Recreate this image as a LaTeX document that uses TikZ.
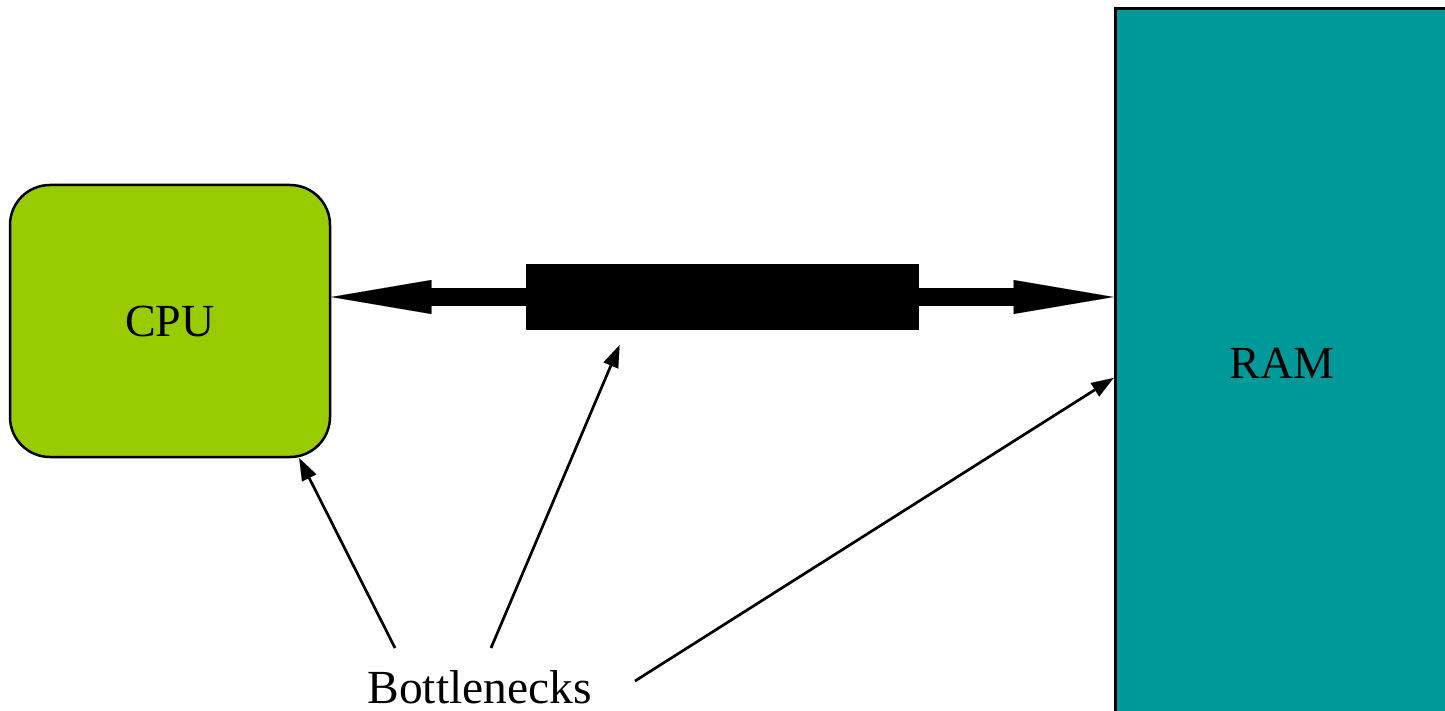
\documentclass[tikz,border=0pt]{standalone}
\usepackage{fontspec}
\setmainfont{Liberation Serif}
\usetikzlibrary{arrows.meta,calc}
\definecolor{cpugreen}{HTML}{99CC00}
\definecolor{ramteal}{HTML}{009999}
\tikzset{
  unitbox/.style={draw=black, inner sep=0pt, font=\fontsize{46}{55}\selectfont},
  busline/.style={line width=18pt, -{Triangle[length=100pt,width=34pt,line width=0.01pt]}},
  pointer/.style={line width=2.7pt, -{Triangle[length=22pt,width=16pt,line width=0.01pt]}},
}
\begin{document}
\begin{tikzpicture}[x=1pt,y=-1pt]
\useasboundingbox (0,0) rectangle (1445,711);
\node[unitbox, fill=cpugreen, line width=2.5pt, rounded corners=40pt,
      minimum width=320pt, minimum height=272pt] (cpu) at (170,321) {CPU};
\node[unitbox, fill=ramteal, line width=3pt,
      minimum width=380pt, minimum height=740pt] (ram) at (1305,379)
      {\hspace*{-46pt}\raisebox{32pt}{RAM}};
\node[fill=black, inner sep=0pt, minimum width=393pt, minimum height=66pt] (bus) at (722.5,297) {};
\draw[busline] (bus.west) -- (bus.west -| cpu.east);
\draw[busline] (bus.east) -- (bus.east -| ram.west);
\node[anchor=base, inner sep=0pt, font=\fontsize{47.5}{57}\selectfont] (bn) at (479.5,703.5) {Bottlenecks};
\coordinate (s1) at (395,648);
\coordinate (s2) at (491,648);
\coordinate (s3) at (635,681);
\draw[pointer] (s1) -- ($(cpu.south east)+(-32,0)$);
\draw[pointer] (s2) -- ($(bus.south)+(-103,15)$);
\draw[pointer] (s3) -- ($(ram.west)+(0,-1)$);
\end{tikzpicture}
\end{document}
